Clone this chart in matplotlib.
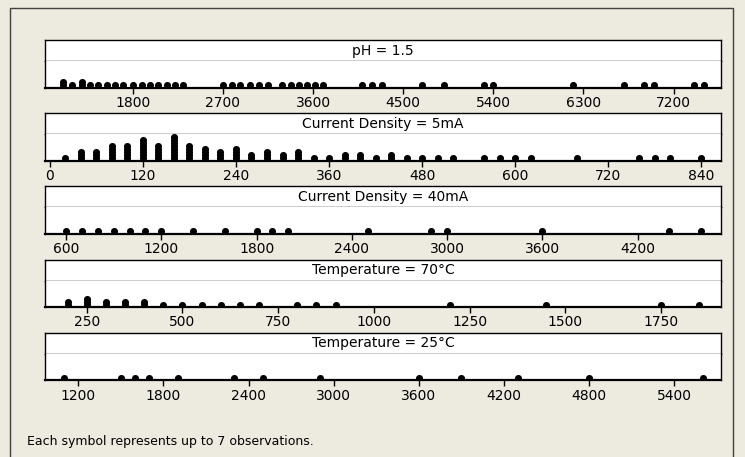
import matplotlib
matplotlib.use("Agg")
import matplotlib.pyplot as plt
from matplotlib.patches import Rectangle

# dot positions and stack heights (number of symbols) per panel
ph_x = [1100, 1190, 1290, 1370, 1455, 1540, 1625, 1705, 1800, 1890, 1975, 2055, 2140, 2225, 2300,
        2700, 2790, 2875, 2965, 3055, 3150, 3290, 3375, 3455, 3540, 3615, 3700,
        4090, 4190, 4290, 4690, 4905, 5305, 5400, 6200, 6700, 6905, 7005, 7400, 7500]
ph_n = [2, 1, 2] + [1] * 37

cd5_x = [20, 40, 60, 80, 100, 120, 140, 160, 180, 200, 220, 240, 260, 280, 300, 320, 340, 360,
         380, 400, 420, 440, 460, 480, 500, 520, 560, 580, 600, 620, 680, 760, 780, 800, 840]
cd5_n = [1, 3, 3, 5, 5, 7, 5, 8, 5, 4, 3, 4, 2, 3, 2, 3, 1, 1,
         2, 2, 1, 2, 1, 1, 1, 1, 1, 1, 1, 1, 1, 1, 1, 1, 1]

cd40_x = [600, 700, 800, 900, 1000, 1100, 1200, 1400, 1600, 1800, 1900, 2000, 2500,
          2900, 3000, 3600, 4400, 4600]
cd40_n = [1] * len(cd40_x)

t70_x = [200, 250, 300, 350, 400, 450, 500, 550, 600, 650, 700, 800, 850, 900,
         1200, 1450, 1750, 1850]
t70_n = [2, 3, 2, 2, 2] + [1] * 13

t25_x = [1100, 1500, 1600, 1700, 1900, 2300, 2500, 2900, 3600, 3900, 4300, 4800, 5600]
t25_n = [1] * len(t25_x)

titles = ["pH = 1.5", "Current Density = 5mA", "Current Density = 40mA",
          "Temperature = 70\u00b0C", "Temperature = 25\u00b0C"]
ticks = [[1800, 2700, 3600, 4500, 5400, 6300, 7200],
         [0, 120, 240, 360, 480, 600, 720, 840],
         [600, 1200, 1800, 2400, 3000, 3600, 4200],
         [250, 500, 750, 1000, 1250, 1500, 1750],
         [1200, 1800, 2400, 3000, 3600, 4200, 4800, 5400]]
xlims = [(923, 7673), (-6.4, 865.7), (467, 4726), (141, 1907), (965, 5729)]
panels = [(ph_x, ph_n), (cd5_x, cd5_n), (cd40_x, cd40_n), (t70_x, t70_n), (t25_x, t25_n)]

W, H = 745, 457
BG = "#EDEAE0"
plt.rcParams["font.family"] = "DejaVu Sans"

fig = plt.figure(figsize=(W / 100, H / 100), dpi=100, facecolor=BG)


def px_axes(left, top, w, h):
    return fig.add_axes([left / W, 1 - (top + h) / H, w / W, h / H])


# outer frame
fig.patches.append(Rectangle((10 / W, -0.1), 723 / W, 1.1 - 8 / H, transform=fig.transFigure,
                             fill=False, edgecolor="#404040", lw=1.0))

left, width = 45, 676
strip_h, data_h = 21, 26.5
for i, ((xs, ns), title, tk, xl) in enumerate(zip(panels, titles, ticks, xlims)):
    top = 40 + 73.2 * i

    st = px_axes(left, top, width, strip_h)
    st.set_facecolor("white")
    st.set_xticks([])
    st.set_yticks([])
    for sp in st.spines.values():
        sp.set_linewidth(1.0)
    st.text(0.5, 0.5, title, ha="center", va="center", fontsize=10, transform=st.transAxes)

    ax = px_axes(left, top + strip_h, width, data_h)
    ax.set_facecolor("white")
    px, py = [], []
    for x, n in zip(xs, ns):
        for k in range(n):
            px.append(x)
            py.append(2.5 + 3 * k)
    ax.scatter(px, py, s=26, color="black", linewidths=0, zorder=2)
    ax.set_xlim(*xl)
    ax.set_ylim(0, data_h)
    ax.set_yticks([])
    ax.set_xticks(tk)
    ax.tick_params(axis="x", direction="out", length=4, width=1, pad=2, labelsize=10)
    ax.spines["top"].set_visible(False)
    ax.spines["bottom"].set_linewidth(1.6)
    ax.spines["left"].set_linewidth(1.0)
    ax.spines["right"].set_linewidth(1.0)

fig.text(27 / W, 1 - 441 / H, "Each symbol represents up to 7 observations.",
         fontsize=9, ha="left", va="center")

fig.savefig("out.png", dpi=100, facecolor=BG)
